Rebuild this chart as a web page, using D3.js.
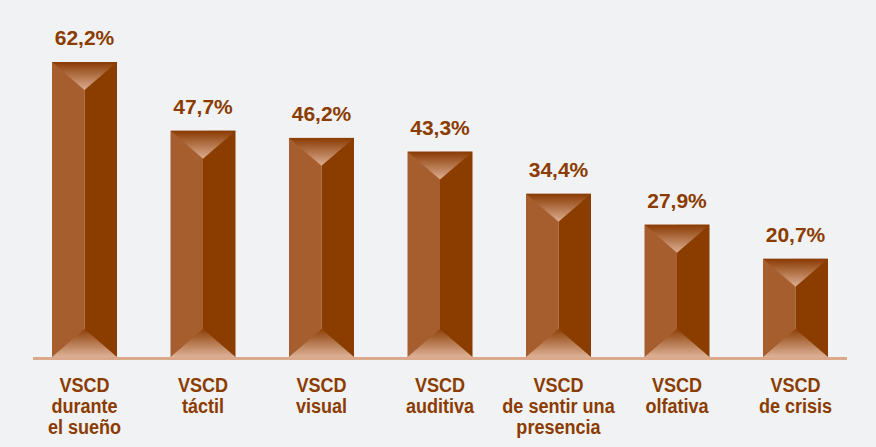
<!DOCTYPE html>
<html>
<head>
<meta charset="utf-8">
<script src="https://cdn.jsdelivr.net/npm/d3@7"></script>
<style>
  html, body { margin: 0; padding: 0; background: #f1f2f4; }
  svg { display: block; }
</style>
</head>
<body>
<div id="chart"></div>
<script>
// Data
const categories = [
    ['VSCD', 'durante', 'el sueño'],
    ['VSCD', 'táctil'],
    ['VSCD', 'visual'],
    ['VSCD', 'auditiva'],
    ['VSCD', 'de sentir una', 'presencia'],
    ['VSCD', 'olfativa'],
    ['VSCD', 'de crisis']
];
const values = [62.2, 47.7, 46.2, 43.3, 34.4, 27.9, 20.7];
const valueLabels = ['62,2%', '47,7%', '46,2%', '43,3%', '34,4%', '27,9%', '20,7%'];

const width = 876, height = 447;
const baseY = 357;
const textColor = '#8b3c00';

const svg = d3.select('#chart').append('svg')
    .attr('width', width)
    .attr('height', height);

svg.append('rect')
    .attr('width', width)
    .attr('height', height)
    .attr('fill', '#f1f2f4');

const x = d3.scaleBand()
    .domain(d3.range(values.length))
    .range([28.3, 851.7])
    .paddingInner(0.4515)
    .paddingOuter(0.2);

const y = d3.scaleLinear()
    .domain([0, 62.2])
    .range([baseY, 62]);

// Gradients for the bevel triangles
const defs = svg.append('defs');
const topGrad = defs.append('linearGradient')
    .attr('id', 'topGrad')
    .attr('x1', 0).attr('y1', 0).attr('x2', 0).attr('y2', 1);
topGrad.append('stop').attr('offset', '0%').attr('stop-color', '#8a3a02');
topGrad.append('stop').attr('offset', '100%').attr('stop-color', '#dcae92');

const botGrad = defs.append('linearGradient')
    .attr('id', 'botGrad')
    .attr('x1', 0).attr('y1', 0).attr('x2', 0).attr('y2', 1);
botGrad.append('stop').attr('offset', '0%').attr('stop-color', '#8e4008');
botGrad.append('stop').attr('offset', '100%').attr('stop-color', '#ddb196');

// Baseline
svg.append('line')
    .attr('x1', 33)
    .attr('x2', 847)
    .attr('y1', baseY + 1.5)
    .attr('y2', baseY + 1.5)
    .attr('stroke', '#dba98b')
    .attr('stroke-width', 3);

const bars = svg.selectAll('g.bar')
    .data(values)
    .join('g')
    .attr('class', 'bar');

const bw = x.bandwidth();
const bevel = bw * 0.43;

// Left face
bars.append('rect')
    .attr('x', (d, i) => x(i))
    .attr('y', d => y(d))
    .attr('width', bw / 2)
    .attr('height', d => baseY - y(d))
    .attr('fill', '#a65e2e');

// Right face
bars.append('rect')
    .attr('x', (d, i) => x(i) + bw / 2)
    .attr('y', d => y(d))
    .attr('width', bw / 2)
    .attr('height', d => baseY - y(d))
    .attr('fill', '#8b3d00');

// Top bevel
bars.append('path')
    .attr('d', (d, i) => {
        const x0 = x(i), top = y(d);
        return `M${x0},${top}L${x0 + bw},${top}L${x0 + bw / 2},${top + bevel}Z`;
    })
    .attr('fill', 'url(#topGrad)');

// Bottom bevel
bars.append('path')
    .attr('d', (d, i) => {
        const x0 = x(i);
        return `M${x0},${baseY}L${x0 + bw},${baseY}L${x0 + bw / 2},${baseY - bevel}Z`;
    })
    .attr('fill', 'url(#botGrad)');

// Value labels
bars.append('text')
    .attr('x', (d, i) => x(i) + bw / 2)
    .attr('y', d => y(d) - 17)
    .attr('text-anchor', 'middle')
    .attr('font-family', 'Liberation Sans, Arial, sans-serif')
    .attr('font-weight', 'bold')
    .attr('font-size', 21)
    .attr('fill', textColor)
    .text((d, i) => valueLabels[i]);

// Category labels (condensed look via horizontal squeeze)
const cat = svg.selectAll('text.cat')
    .data(categories)
    .join('text')
    .attr('class', 'cat')
    .attr('transform', (d, i) => `translate(${x(i) + bw / 2},392) scale(0.86,1)`)
    .attr('text-anchor', 'middle')
    .attr('font-family', 'Liberation Sans, Arial, sans-serif')
    .attr('font-weight', 'bold')
    .attr('font-size', 21)
    .attr('fill', textColor);

cat.selectAll('tspan')
    .data(d => d)
    .join('tspan')
    .attr('x', 0)
    .attr('dy', (d, j) => j === 0 ? 0 : 21)
    .text(d => d);
</script>
</body>
</html>
